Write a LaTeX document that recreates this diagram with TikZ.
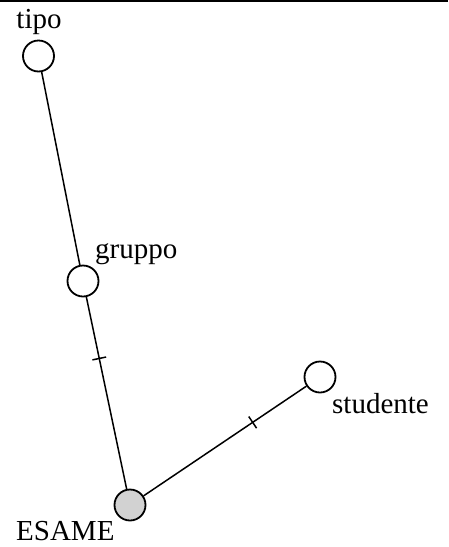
\documentclass[tikz,border=0pt]{standalone}
\usepackage{fontspec}
\setmainfont{Liberation Serif}
\usetikzlibrary{decorations.markings}
\begin{document}
\begin{tikzpicture}[
        x=1pt, y=-1pt,
        entity/.style={draw, circle, line width=1.8pt, minimum size=31pt, inner sep=0pt, fill=white},
        mainent/.style={entity, fill=gray!35},
        link/.style={line width=1.5pt},
        ticked/.style={postaction={decorate}, decoration={markings, mark=at position #1 with {\draw[line width=1.5pt] (0,-7pt) -- (0,7pt);}}},
        lbl/.style={font=\fontsize{29}{31}\selectfont, inner sep=0pt}
    ]
        \useasboundingbox (0,0) rectangle (448,547);
        \draw[line width=2.5pt] (0,1) -- (448,1);

        \node[entity] (tipo) at (38.5,56) {};
        \node[entity] (gruppo) at (83,281) {};
        \node[entity] (studente) at (320,377) {};
        \node[mainent] (esame) at (130,505) {};

        \node[lbl, anchor=base] (tipolbl) at (39,28) {tipo};
        \node[lbl, anchor=base west] (gruppolbl) at (95,258) {gruppo};
        \node[lbl, anchor=base west] (studentelbl) at (332,413) {studente};
        \node[lbl, anchor=base west] (esamelbl) at (16,540) {ESAME};

        \draw[link] (tipo) -- (gruppo);
        \draw[link, ticked=0.32] (gruppo) -- (esame);
        \draw[link, ticked=0.33] (studente) -- (esame);
    \end{tikzpicture}
\end{document}
